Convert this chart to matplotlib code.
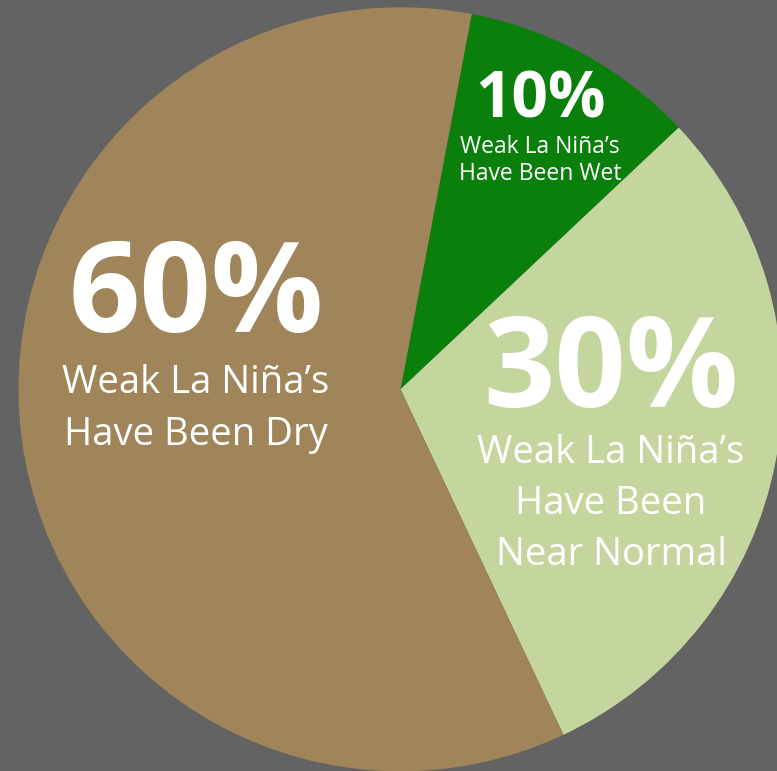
import matplotlib
matplotlib.use("Agg")
import matplotlib.pyplot as plt

# shares of weak La Nina winters, clockwise from the top
categories = ["Wet", "Near Normal", "Dry"]
shares = [10, 30, 60]
pct_labels = ["10%", "30%", "60%"]
desc_labels = [
    "Weak La Niña’s\nHave Been Wet",
    "Weak La Niña’s\nHave Been\nNear Normal",
    "Weak La Niña’s\nHave Been Dry",
]
colors = ["#0b7f0b", "#c4d69e", "#a0855b"]

W, H = 777, 771
fig = plt.figure(figsize=(W / 100, H / 100), dpi=100)
fig.patch.set_facecolor("#636363")
ax = fig.add_axes([0, 0, 1, 1])
ax.set_facecolor("#636363")

ax.pie(
    shares,
    colors=colors,
    startangle=79.25,
    counterclock=False,
    center=(400.5, H - 389.3),
    radius=382,
    wedgeprops=dict(linewidth=0),
)
ax.set_xlim(0, W)
ax.set_ylim(0, H)
ax.set_aspect("equal")
ax.axis("off")

font = "Open Sans"
# (x centre, baseline of percent, baseline of first text line, sizes, line step)
label_pos = [
    (540, 118, 153, 46, 16.5, 27),
    (611, 407, 463, 90, 27.5, 51),
    (196, 332, 393, 90, 27.5, 52),
]

for pct, desc, (x, yb, yl, big, small, step) in zip(pct_labels, desc_labels, label_pos):
    ax.text(x, H - yb, pct, ha="center", va="baseline", color="white",
            fontsize=big, fontweight="bold", family=font)
    for i, line in enumerate(desc.split("\n")):
        ax.text(x, H - (yl + i * step), line, ha="center", va="baseline",
                color="white", fontsize=small, family=font)

fig.savefig("out.png", dpi=100, facecolor=fig.get_facecolor())
